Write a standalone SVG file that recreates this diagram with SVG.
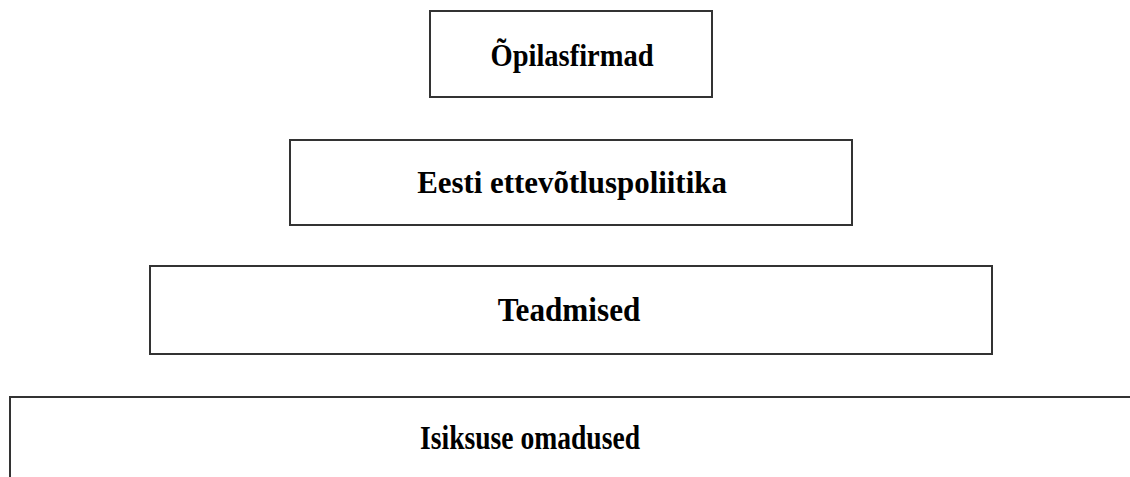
<svg xmlns="http://www.w3.org/2000/svg" width="1130" height="477" viewBox="0 0 1130 477">
<style>
.box{fill:#fff;stroke:#333;stroke-width:2}
.lbl{font-family:"Liberation Serif","Times New Roman",serif;font-weight:bold;font-size:30px;fill:#000;text-anchor:middle}
</style>
<rect width="1130" height="477" fill="#fff"/>
<g id="n1"><rect class="box" x="430" y="11" width="282" height="86"/><text class="lbl" transform="translate(572,66) scale(0.95,1.05)">Õpilasfirmad</text></g>
<g id="n2"><rect class="box" x="290" y="140" width="562" height="85"/><text class="lbl" transform="translate(572,193) scale(1.03,1.05)">Eesti ettevõtluspoliitika</text></g>
<g id="n3"><rect class="box" x="150" y="266" width="842" height="88"/><text class="lbl" transform="translate(569,321) scale(1.04,1.1)">Teadmised</text></g>
<g id="n4"><rect class="box" x="10" y="397" width="1140" height="100"/><text class="lbl" transform="translate(530,449) scale(0.92,1.1)">Isiksuse omadused</text></g>
<g id="connectors"></g>
</svg>
